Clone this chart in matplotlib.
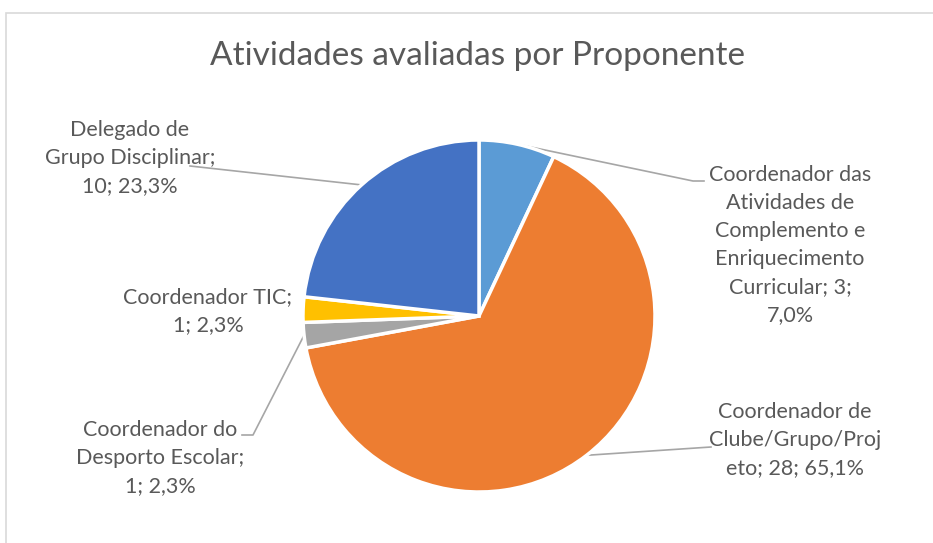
import numpy as np
import matplotlib.pyplot as plt
import matplotlib.patches as patches

# data
labels = ['Coordenador das\nAtividades de\nComplemento e\nEnriquecimento\nCurricular; 3;\n7,0%',
          'Coordenador de\nClube/Grupo/Proj\neto; 28; 65,1%',
          'Coordenador do\nDesporto Escolar;\n1; 2,3%',
          'Coordenador TIC;\n1; 2,3%',
          'Delegado de\nGrupo Disciplinar;\n10; 23,3%']
values = [3, 28, 1, 1, 10]
slice_colors = ['#5B9BD5', '#ED7D31', '#A5A5A5', '#FFC000', '#4472C4']

W, H = 933, 543
fig = plt.figure(figsize=(W / 100, H / 100), dpi=100)
ax = fig.add_axes([0, 0, 1, 1])

# chart frame
ax.add_patch(patches.Rectangle((6, -10), W + 20, H - 13 + 10, fill=False,
                               edgecolor='#D9D9D9', linewidth=1.2))

cx, cy, r = 479, H - 316, 176
wedges, _ = ax.pie(values, colors=slice_colors, startangle=90, counterclock=False,
                   center=(cx, cy), radius=r,
                   wedgeprops=dict(edgecolor='white', linewidth=2.5))

txt = '#595959'
font = 'Lato'
fs = 15.5

# label position (pixels from top-left), leader line path (elbow, end) or None
label_pos = [(790, 245), (795, 440), (160, 458), (208, 311), (130, 158)]
leaders = [[(693, 181), (704, 181)],
           [(711, 447)],
           [(253, 435), (242, 435)],
           None,
           [(190, 166)]]

for w, lab, pos, lead in zip(wedges, labels, label_pos, leaders):
    ax.text(pos[0], H - pos[1], lab, ha='center', va='center', color=txt,
            fontsize=fs, family=font, linespacing=1.5)
    if lead:
        mid = np.deg2rad((w.theta1 + w.theta2) / 2)
        xs = [cx + r * np.cos(mid)] + [p[0] for p in lead]
        ys = [cy + r * np.sin(mid)] + [H - p[1] for p in lead]
        ax.plot(xs, ys, color='#A6A6A6', linewidth=1.2, zorder=0.5)

ax.text(477, H - 56, 'Atividades avaliadas por Proponente', ha='center', va='center',
        color=txt, fontsize=24, family=font)

ax.set_xlim(0, W)
ax.set_ylim(0, H)
ax.set_aspect('auto')
ax.axis('off')

plt.savefig('out.png', dpi=100)
plt.close()
